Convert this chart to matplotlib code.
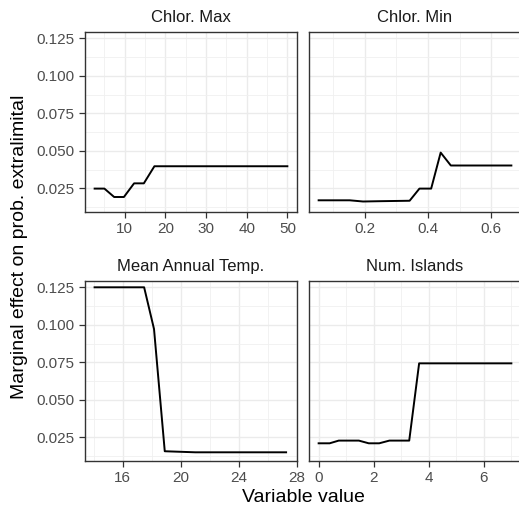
#!/usr/bin/env python3
"""
Partial dependence panels: marginal effect on prob. extralimital
"""

import matplotlib
matplotlib.use('Agg')
import matplotlib.pyplot as plt

plt.rcParams['font.family'] = ['Liberation Sans', 'DejaVu Sans']

# panel titles
titles = ['Chlor. Max', 'Chlor. Min', 'Mean Annual Temp.', 'Num. Islands']

# values
chl_max_x = [2.6, 5.0, 7.4, 9.8, 12.3, 14.7, 17.3, 50.0]
chl_max_y = [0.0248, 0.0248, 0.0192, 0.0192, 0.0283, 0.0283, 0.0397, 0.0397]

chl_min_x = [0.055, 0.153, 0.195, 0.247, 0.342, 0.373, 0.41, 0.44, 0.472, 0.663]
chl_min_y = [0.0170, 0.0170, 0.0162, 0.0164, 0.0167, 0.0248, 0.0248, 0.0488, 0.0402, 0.0402]

temp_x = [14.07, 17.48, 18.16, 18.9, 21.0, 27.25]
temp_y = [0.125, 0.125, 0.0972, 0.0157, 0.0150, 0.0150]

isl_x = [0.0, 0.4, 0.73, 1.46, 1.82, 2.2, 2.57, 3.29, 3.65, 7.0]
isl_y = [0.021, 0.021, 0.0228, 0.0228, 0.021, 0.021, 0.0228, 0.0228, 0.0743, 0.0743]

# tick positions per panel
x_major = [[10, 20, 30, 40, 50], [0.2, 0.4, 0.6], [16, 20, 24, 28], [0, 2, 4, 6]]
x_minor = [[5, 15, 25, 35, 45], [0.1, 0.3, 0.5], [14, 18, 22, 26], [1, 3, 5, 7]]
x_labels = [['10', '20', '30', '40', '50'], ['0.2', '0.4', '0.6'],
            ['16', '20', '24', '28'], ['0', '2', '4', '6']]
y_major = [0.025, 0.050, 0.075, 0.100, 0.125]
y_minor = [0.0125, 0.0375, 0.0625, 0.0875, 0.1125]
y_labels = ['0.025', '0.050', '0.075', '0.100', '0.125']

series = [(chl_max_x, chl_max_y), (chl_min_x, chl_min_y),
          (temp_x, temp_y), (isl_x, isl_y)]

W, H = 519, 511
fig = plt.figure(figsize=(W / 100, H / 100), dpi=100)

# panel boxes in pixels: left, top
boxes = [(85, 32), (309, 32), (85, 281), (309, 281)]
pw, ph = 212, 180

border = '#333333'
for i, (xs, ys) in enumerate(series):
    l, t = boxes[i]
    ax = fig.add_axes([l / W, (H - t - ph) / H, pw / W, ph / H])
    ax.plot(xs, ys, color='black', lw=1.4, solid_joinstyle='round', zorder=3)

    span = max(xs) - min(xs)
    ax.set_xlim(min(xs) - 0.05 * span, max(xs) + 0.05 * span)
    ax.set_ylim(0.0092, 0.1292)

    ax.set_xticks(x_major[i])
    ax.set_xticklabels(x_labels[i])
    ax.set_xticks(x_minor[i], minor=True)
    ax.set_yticks(y_major)
    ax.set_yticks(y_minor, minor=True)
    if i % 2 == 0:
        ax.set_yticklabels(y_labels)
    else:
        ax.tick_params(axis='y', which='major', length=0, labelleft=False)

    ax.grid(True, which='major', color='#EBEBEB', lw=1.0, zorder=0)
    ax.grid(True, which='minor', color='#F0F0F0', lw=0.6, zorder=0)
    ax.set_axisbelow(True)

    ax.tick_params(which='major', length=4, width=0.9, color=border,
                   labelsize=11, labelcolor='#4D4D4D', pad=3.5)
    if i % 2 == 1:
        ax.tick_params(axis='y', which='major', length=0)
    ax.tick_params(which='minor', length=0)
    for sp in ax.spines.values():
        sp.set_color(border)
        sp.set_linewidth(1.0)

    ax.set_title(titles[i], fontsize=12, color='#1A1A1A', pad=7.5)

fig.text(20 / W, 1 - 246.5 / H, 'Marginal effect on prob. extralimital',
         rotation=90, ha='center', va='center', fontsize=14)
fig.text(303 / W, 1 - 497 / H, 'Variable value',
         ha='center', va='center', fontsize=14)

fig.savefig('out.png', dpi=100)
